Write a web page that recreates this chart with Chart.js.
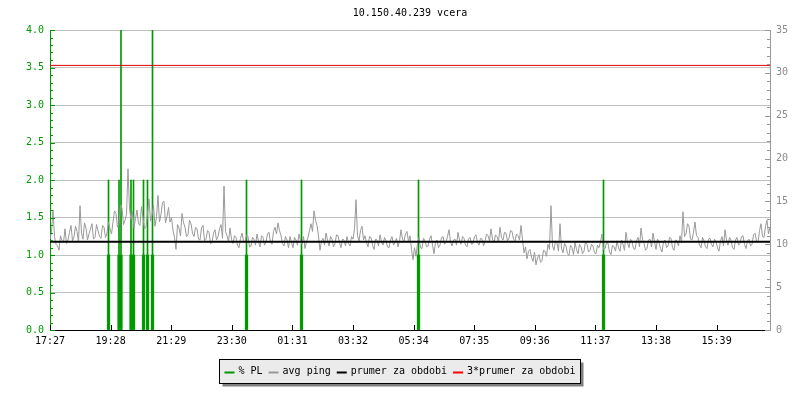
<!DOCTYPE html>
<html lang="cs">
<head>
  <meta charset="UTF-8">
  <title>10.150.40.239 vcera</title>
  <script src="https://cdn.jsdelivr.net/npm/chart.js@4"></script>
  <style>
    body { margin: 0; background: #fff; }
  </style>
</head>
<body>
<canvas id="myChart" width="800" height="400"></canvas>

<script>
// casova osa v minutach od 17:27
const tickLabels = ['17:27', '19:28', '21:29', '23:30', '01:31', '03:32', '05:34', '07:35', '09:36', '11:37', '13:38', '15:39'];
const tickStep = 121.2;
const spanMinutes = 1440;

// % PL - kdy a kolik
const plTimes = [117, 138, 142, 162, 167, 187, 195, 205, 393, 503, 737, 1107];
const plPeak  = [2, 2, 4, 2, 2, 2, 2, 4, 2, 2, 2, 2];
const plBase  = [1, 1, 1, 1, 1, 1, 1, 1, 1, 1, 1, 1];

// avg ping [ms], vzorek kazde 3 minuty
const pingStep = 3;
const avgPing = [
  10.6, 11.5, 14.0, 10.9, 10.0, 9.8, 9.3, 11.0, 10.4, 10.2, 11.8, 10.1, 10.5, 11.4, 12.2, 10.4, 10.9, 12.1, 11.5, 10.3,
  14.5, 11.3, 10.6, 12.5, 11.9, 10.5, 11.2, 11.8, 12.4, 10.6, 10.8, 12.3, 11.6, 10.9, 10.7, 12.2, 12.0, 10.8, 11.3, 12.6,
  11.8, 11.2, 12.6, 13.9, 13.6, 12.0, 12.4, 14.6, 14.2, 12.3, 12.8, 13.5, 18.8, 14.1, 12.9, 13.8, 11.9, 13.0, 14.0, 12.4,
  12.2, 14.4, 13.1, 11.8, 12.0, 13.6, 15.3, 12.7, 13.4, 14.5, 12.1, 13.2, 15.7, 12.6, 13.5, 14.9, 15.0, 12.5, 13.2, 14.3,
  12.6, 13.1, 11.6, 10.8, 9.4, 12.3, 11.9, 11.0, 13.6, 12.5, 12.0, 10.9, 11.1, 12.8, 12.4, 11.3, 10.9, 12.0, 11.8, 10.6,
  10.5, 11.9, 12.2, 10.4, 10.6, 11.6, 11.4, 10.1, 10.2, 11.3, 11.7, 10.5, 10.9, 11.8, 12.3, 10.7, 16.8, 11.5, 11.0, 10.3,
  11.9, 10.6, 10.1, 11.0, 10.8, 9.9, 9.6, 10.7, 11.3, 10.4, 10.2, 11.1, 10.9, 9.7, 9.8, 10.8, 10.6, 9.9, 11.2, 10.3,
  9.7, 11.0, 10.8, 9.9, 10.3, 11.2, 11.4, 10.2, 10.0, 11.5, 12.0, 11.2, 12.5, 11.6, 11.0, 10.1, 9.8, 10.9, 10.5, 9.6,
  10.9, 10.2, 9.6, 10.8, 10.5, 9.9, 11.2, 10.4, 10.0, 10.9, 9.5, 10.3, 10.8, 11.6, 12.4, 11.5, 13.9, 12.8, 12.2, 11.0,
  9.3, 10.4, 10.7, 9.9, 11.3, 10.5, 9.8, 10.9, 10.6, 9.7, 10.1, 11.1, 11.0, 10.2, 9.6, 10.6, 10.5, 9.8, 10.9, 10.1,
  9.8, 10.9, 10.6, 11.8, 15.2, 11.0, 10.4, 11.6, 12.1, 10.5, 11.0, 10.2, 9.7, 10.9, 10.8, 9.9, 9.4, 10.6, 10.5, 9.8,
  11.1, 10.3, 9.9, 10.8, 10.4, 9.7, 9.6, 10.5, 10.9, 9.9, 10.2, 10.7, 9.7, 10.4, 11.7, 10.6, 10.4, 11.2, 11.5, 10.3,
  11.0, 9.4, 8.2, 9.6, 8.6, 10.1, 10.8, 9.6, 9.5, 10.7, 10.4, 9.7, 9.8, 10.6, 11.0, 9.9, 8.9, 10.2, 10.5, 9.6,
  9.9, 10.8, 10.9, 10.0, 10.2, 10.9, 11.7, 10.3, 9.8, 10.5, 10.6, 9.9, 11.4, 10.5, 10.0, 10.9, 10.7, 9.9, 9.7, 10.6,
  10.8, 10.0, 10.1, 10.9, 11.1, 10.2, 9.9, 10.7, 10.6, 9.8, 10.3, 11.2, 11.0, 10.4, 11.8, 10.6, 10.2, 11.1, 10.9, 10.3,
  12.0, 10.8, 10.5, 11.4, 11.3, 10.4, 10.7, 11.6, 11.5, 10.6, 10.4, 11.2, 11.0, 10.5, 12.2, 10.6, 9.0, 9.7, 8.3, 9.2,
  9.4, 8.5, 8.0, 9.1, 7.6, 8.4, 8.8, 7.9, 8.1, 9.3, 9.2, 8.6, 10.0, 9.4, 14.5, 9.8, 9.3, 10.4, 10.1, 9.2,
  12.4, 9.5, 9.0, 10.1, 9.8, 8.9, 8.7, 9.9, 9.6, 8.8, 10.2, 9.4, 8.9, 10.0, 9.7, 8.9, 9.2, 10.3, 10.0, 9.1,
  9.3, 10.0, 9.8, 9.0, 8.9, 9.9, 9.6, 10.3, 11.2, 9.4, 9.5, 10.2, 10.1, 9.1, 8.8, 9.9, 9.7, 9.2, 10.4, 9.6,
  9.2, 10.5, 10.0, 9.3, 11.4, 10.2, 9.6, 10.6, 10.3, 9.5, 9.4, 10.4, 10.8, 9.7, 11.9, 10.6, 10.1, 9.3, 9.5, 10.5,
  10.6, 9.7, 11.3, 10.3, 9.4, 10.6, 10.2, 9.5, 9.1, 10.3, 10.5, 9.6, 9.8, 10.8, 10.7, 9.6, 9.3, 10.5, 10.4, 9.8,
  11.0, 10.2, 13.8, 10.9, 11.2, 12.4, 12.1, 10.6, 10.5, 11.4, 12.6, 11.0, 10.8, 9.9, 9.6, 10.8, 10.4, 9.7, 9.5, 10.6,
  10.7, 10.0, 9.7, 10.6, 10.3, 9.6, 9.2, 10.4, 10.9, 9.8, 11.7, 10.5, 9.9, 10.8, 10.5, 9.6, 9.4, 10.5, 10.8, 9.9,
  10.1, 10.9, 11.0, 10.0, 9.5, 10.4, 10.6, 9.8, 10.0, 11.1, 11.3, 10.4, 10.2, 11.6, 12.4, 10.9, 10.8, 12.1, 12.8, 11.2,
  12.0
];

// prumer za obdobi [ms]
const prumer = 10.29;

const FONT = 'DejaVu Sans Mono';
const GREEN = '#009900';
const GREY = '#999999';

const pingPoints = avgPing.map((v, i) => ({ x: i * pingStep, y: v }));
const flat = v => [{ x: 0, y: v }, { x: spanMinutes, y: v }];

// kratke ticky dovnitr grafu + legenda s ramečkem
const rrdLook = {
  id: 'rrdLook',
  afterDraw(chart) {
    const ctx = chart.ctx;
    const a = chart.chartArea;
    const yl = chart.scales.y, yr = chart.scales.y2, xs = chart.scales.x;
    ctx.save();
    ctx.lineWidth = 1;

    ctx.strokeStyle = GREEN;
    for (let i = 0; i <= 40; i++) {
      const py = Math.round(yl.getPixelForValue(i / 10)) + 0.5;
      const len = i % 5 === 0 ? 5 : 3;
      ctx.beginPath(); ctx.moveTo(a.left, py); ctx.lineTo(a.left + len, py); ctx.stroke();
    }
    ctx.strokeStyle = GREY;
    for (let i = 0; i <= 35; i++) {
      const py = Math.round(yr.getPixelForValue(i)) + 0.5;
      const len = i % 5 === 0 ? 5 : 3;
      ctx.beginPath(); ctx.moveTo(a.right, py); ctx.lineTo(a.right - len, py); ctx.stroke();
    }
    ctx.strokeStyle = '#000';
    tickLabels.forEach((_, i) => {
      const px = Math.round(xs.getPixelForValue(i * tickStep)) + 0.5;
      ctx.beginPath(); ctx.moveTo(px, a.bottom); ctx.lineTo(px, a.bottom - 5); ctx.stroke();
    });

    // legenda
    ctx.font = '10px "' + FONT + '"';
    ctx.textBaseline = 'middle';
    const items = chart.data.datasets
      .filter(d => !d.hideLegend)
      .map(d => ({ text: d.label, color: d.legendColor }));
    const mark = 10, gap = 4, sep = 6;
    let total = 0;
    items.forEach((it, i) => { it.w = ctx.measureText(it.text).width; total += mark + gap + it.w + (i ? sep : 0); });
    const boxW = Math.round(total + 10), boxH = 24;
    const bx = Math.round(399 - boxW / 2) + 0.5, by = 359.5;
    ctx.fillStyle = '#808080';
    ctx.fillRect(bx + 3, by + 3, boxW, boxH);
    ctx.fillStyle = '#ebebeb';
    ctx.fillRect(bx, by, boxW, boxH);
    ctx.strokeStyle = '#000';
    ctx.strokeRect(bx, by, boxW, boxH);
    let cx = bx + 5;
    const cy = by + 12;
    items.forEach(it => {
      ctx.fillStyle = it.color;
      ctx.fillRect(cx, cy, mark, 2);
      cx += mark + gap;
      ctx.fillStyle = '#000';
      ctx.fillText(it.text, cx, cy);
      cx += it.w + sep;
    });
    ctx.restore();
  }
};

const config = {
  type: 'line',
  data: {
    datasets: [
      {
        type: 'bar',
        label: '% PL',
        legendColor: GREEN,
        data: plTimes.map((t, i) => ({ x: t, y: plPeak[i] })),
        backgroundColor: GREEN,
        barThickness: 1,
        grouped: false,
        yAxisID: 'y',
        order: 4
      },
      {
        type: 'bar',
        label: '% PL',
        hideLegend: true,
        data: plTimes.map((t, i) => ({ x: t, y: plBase[i] })),
        backgroundColor: GREEN,
        barThickness: 2.6,
        grouped: false,
        yAxisID: 'y',
        order: 3
      },
      {
        label: 'avg ping',
        legendColor: GREY,
        data: pingPoints,
        borderColor: GREY,
        borderWidth: 1,
        pointRadius: 0,
        tension: 0,
        yAxisID: 'y2',
        order: 2
      },
      {
        label: 'prumer za obdobi',
        legendColor: '#000',
        data: flat(prumer),
        borderColor: '#000',
        borderWidth: 2,
        pointRadius: 0,
        yAxisID: 'y2',
        order: 1
      },
      {
        label: '3*prumer za obdobi',
        legendColor: '#ff0000',
        data: flat(3 * prumer),
        borderColor: '#e00000',
        borderWidth: 1,
        pointRadius: 0,
        yAxisID: 'y2',
        order: 0
      }
    ]
  },
  options: {
    responsive: false,
    animation: false,
    devicePixelRatio: 1,
    layout: { padding: { top: 0, left: 0, right: 0, bottom: 50 } },
    scales: {
      x: {
        type: 'linear',
        min: 0,
        max: spanMinutes,
        offset: false,
        grid: { display: false, drawTicks: false, offset: false },
        border: { color: '#000', width: 1 },
        afterBuildTicks: axis => { axis.ticks = tickLabels.map((_, i) => ({ value: i * tickStep })); },
        afterFit: axis => { axis.height = 20; },
        ticks: {
          autoSkip: false,
          maxRotation: 0,
          padding: 5,
          color: '#000',
          font: { family: FONT, size: 10 },
          callback: (value, index) => tickLabels[index]
        }
      },
      y: {
        position: 'left',
        min: 0,
        max: 4,
        afterFit: axis => { axis.width = 50; },
        grid: { color: '#c0c0c0', drawTicks: false },
        border: { color: GREEN },
        ticks: {
          stepSize: 0.5,
          padding: 6,
          color: GREEN,
          font: { family: FONT, size: 10 },
          callback: v => v.toFixed(1)
        }
      },
      y2: {
        position: 'right',
        min: 0,
        max: 35,
        afterFit: axis => { axis.width = 30; },
        grid: { display: false, drawTicks: false },
        border: { color: GREY },
        ticks: {
          stepSize: 5,
          padding: 6,
          color: '#8c8c8c',
          font: { family: FONT, size: 10 }
        }
      }
    },
    plugins: {
      legend: { display: false },
      tooltip: { enabled: false },
      title: {
        display: true,
        fullSize: false,
        text: '10.150.40.239 vcera',
        color: '#000',
        font: { family: FONT, size: 10, weight: 'normal' },
        padding: { top: 7, bottom: 11 }
      }
    }
  },
  plugins: [rrdLook]
};

new Chart(document.getElementById('myChart').getContext('2d'), config);
</script>
</body>
</html>
